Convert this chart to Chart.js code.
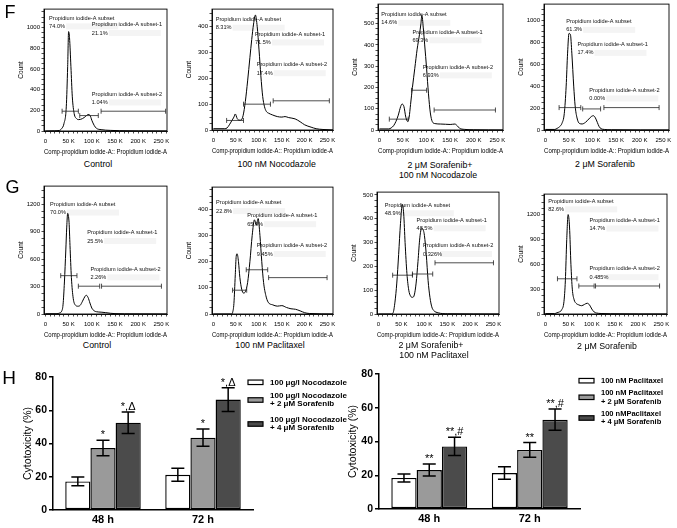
<!DOCTYPE html>
<html>
<head>
<meta charset="utf-8">
<title>Cell cycle and cytotoxicity</title>
<script src="https://cdn.jsdelivr.net/npm/chart.js@4.4.1/dist/chart.umd.min.js"></script>
<style>
  body { margin: 0; background: #fff; }
  #page { position: relative; width: 677px; height: 528px; overflow: hidden; font-family: 'Liberation Sans', Arial, sans-serif; color: #000; }
  #page canvas { position: absolute; }
  .txt { position: absolute; transform: translate(-50%, -50%); white-space: nowrap; line-height: 1; }
</style>
</head>
<body>
<div id="page"></div>
<script>
const FONT = "'Liberation Sans', Arial, sans-serif"

// gate names, same in every histogram
const gateNames = ['Propidium iodide-A subset', 'Propidium iodide-A subset-1', 'Propidium iodide-A subset-2']

// F row (x in K)
const f1X = [0, 20, 30, 35, 40, 45, 48, 50, 52, 55, 58, 62, 67, 72, 80, 87, 92, 96, 100, 105, 110, 120, 140, 160, 200, 262]
const f1Count = [0, 2, 5, 23, 71, 233, 621, 960, 900, 621, 330, 168, 120, 110, 120, 142, 159, 152, 104, 55, 26, 13, 6, 3, 1, 0]
const f1Gates = [[36, 71, 191], [74, 114, 149], [120, 259, 191]]
const f1Pct = ['74.0%', '21.1%', '1.04%']

const f2X = [0, 25, 30, 35, 40, 45, 48, 52, 56, 60, 65, 70, 75, 80, 84, 88, 92, 96, 100, 104, 108, 112, 116, 121, 130, 140, 150, 157, 165, 179, 190, 200, 214, 225, 240, 262]
const f2Count = [5, 5, 8, 20, 35, 50, 62, 45, 38, 38, 55, 110, 190, 280, 350, 410, 445, 400, 310, 210, 130, 90, 72, 65, 58, 52, 50, 52, 48, 43, 32, 20, 11, 5, 2, 0]
const f2Gates = [[29, 66, 37], [66, 125, 100], [131, 254, 113]]
const f2Pct = ['8.31%', '71.5%', '17.4%']

const f3X = [0, 20, 25, 30, 35, 40, 45, 48, 52, 56, 60, 63, 66, 70, 75, 80, 85, 88, 90, 93, 96, 100, 104, 108, 112, 118, 130, 140, 150, 160, 165, 170, 180, 200, 262]
const f3Count = [5, 5, 10, 20, 40, 70, 110, 122, 110, 60, 40, 60, 120, 200, 290, 380, 450, 500, 540, 480, 400, 290, 170, 80, 40, 30, 28, 27, 26, 28, 20, 8, 3, 1, 0]
const f3Gates = [[21, 61, 51], [68, 100, 187], [116, 246, 94]]
const f3Pct = ['14.6%', '69.3%', '6.93%']

const f4X = [0, 20, 25, 30, 35, 40, 44, 47, 50, 53, 56, 60, 63, 67, 72, 78, 85, 92, 98, 102, 106, 110, 114, 118, 125, 140, 262]
const f4Count = [5, 5, 15, 30, 60, 150, 400, 700, 880, 870, 700, 400, 220, 110, 60, 55, 70, 100, 125, 130, 110, 70, 30, 12, 5, 2, 0]
const f4Gates = [[29, 75, 204], [79, 117, 192], [124, 241, 204]]
const f4Pct = ['61.3%', '17.4%', '0.00%']

// G row
const g1X = [0, 25, 30, 35, 38, 41, 44, 46, 48, 51, 53, 56, 60, 65, 70, 75, 80, 85, 88, 92, 96, 100, 105, 110, 120, 130, 140, 150, 170, 262]
const g1Count = [3, 3, 10, 30, 100, 350, 700, 950, 1100, 1000, 750, 400, 170, 95, 85, 95, 140, 190, 205, 180, 120, 65, 35, 25, 20, 15, 8, 4, 2, 0]
const g1Gates = [[33, 68, 419], [71, 117, 304], [121, 250, 304]]
const g1Pct = ['70.0%', '25.5%', '2.26%']

const g2X = [0, 40, 42, 45, 48, 50, 52, 55, 58, 62, 66, 70, 75, 80, 85, 90, 94, 98, 102, 106, 110, 115, 120, 130, 140, 150, 160, 170, 180, 190, 200, 210, 262]
const g2Count = [0, 0, 5, 40, 150, 220, 230, 200, 140, 95, 80, 85, 120, 200, 300, 360, 340, 365, 300, 200, 120, 70, 45, 35, 30, 32, 25, 20, 18, 12, 5, 2, 0]
const g2Gates = [[42, 73, 91], [72, 119, 169], [121, 249, 139]]
const g2Pct = ['22.8%', '65.9%', '9.45%']

const g3X = [0, 28, 32, 36, 40, 44, 48, 52, 55, 58, 62, 66, 70, 74, 78, 82, 86, 90, 94, 98, 100, 104, 108, 112, 116, 120, 130, 150, 262]
const g3Count = [0, 0, 5, 50, 130, 250, 380, 460, 420, 300, 170, 100, 75, 70, 80, 130, 220, 320, 360, 350, 330, 250, 140, 70, 30, 15, 5, 1, 0]
const g3Gates = [[31, 74, 163], [74, 118, 168], [123, 250, 215]]
const g3Pct = ['48.9%', '48.5%', '0.326%']

const g4X = [0, 20, 25, 30, 35, 40, 43, 46, 49, 52, 55, 58, 62, 66, 72, 78, 84, 90, 95, 100, 105, 110, 120, 140, 262]
const g4Count = [5, 5, 15, 25, 50, 150, 400, 900, 1200, 1050, 600, 300, 170, 130, 110, 100, 115, 130, 110, 60, 25, 12, 6, 3, 0]
const g4Gates = [[26, 68, 425], [72, 105, 338], [108, 246, 338]]
const g4Pct = ['82.6%', '14.7%', '0.485%']

// H: cytotoxicity (%)
const hCats = ['48 h', '72 h']
const nocoAlone = [17.2, 21.2]
const nocoAloneErr = [2.6, 3.9]
const nocoSor2 = [37.3, 43.5]
const nocoSor2Err = [4.7, 5.2]
const nocoSor2Marks = ['*', '*']
const nocoSor4 = [52.5, 66.4]
const nocoSor4Err = [6.5, 7.2]
const nocoSor4Marks = ['*,Δ', '*,Δ']

const pacAlone = [18.4, 21.3]
const pacAloneErr = [2.4, 3.7]
const pacSor2 = [23.1, 35]
const pacSor2Err = [3.6, 4.4]
const pacSor2Marks = ['**', '**']
const pacSor4 = [37.1, 52.9]
const pacSor4Err = [5.4, 6.3]
const pacSor4Marks = ['**,#', '**,#']

const page = document.getElementById('page')

function addCanvas(left, top, width, height) {
  const cv = document.createElement('canvas')
  cv.width = width
  cv.height = height
  cv.style.left = left + 'px'
  cv.style.top = top + 'px'
  cv.style.width = width + 'px'
  cv.style.height = height + 'px'
  page.appendChild(cv)
  return cv
}

function addText(text, cx, cy, size) {
  const d = document.createElement('div')
  d.className = 'txt'
  d.textContent = text
  d.style.left = cx + 'px'
  d.style.top = cy + 'px'
  d.style.fontSize = size + 'px'
  page.appendChild(d)
}

function histogram(p) {
  const [l, t, r, b] = p.box
  const cv = addCanvas(l - 34, t - 4, r - l + 38, b - t + 29)

  const decor = {
    id: 'decor',
    beforeDatasetsDraw(chart) {
      const { ctx, chartArea: a, scales: { x, y } } = chart
      ctx.save()
      ctx.beginPath()
      ctx.rect(a.left, a.top, a.width, a.height)
      ctx.clip()
      ctx.fillStyle = '#f4f4f4'
      p.tags.forEach(([tx, ty]) => {
        const px = x.getPixelForValue(tx)
        const py = y.getPixelForValue(ty) + 8.3
        ctx.fillRect(px + 17, py - 3, 52, 6)
      })
      ctx.restore()
    },
    afterDatasetsDraw(chart) {
      const { ctx, chartArea: a, scales: { x, y } } = chart
      ctx.save()
      ctx.strokeStyle = '#222'
      ctx.lineWidth = 0.8
      p.gates.forEach(([g1, g2, gy]) => {
        const x1 = x.getPixelForValue(g1)
        const x2 = x.getPixelForValue(g2)
        const py = y.getPixelForValue(gy)
        ctx.beginPath()
        ctx.moveTo(x1, py); ctx.lineTo(x2, py)
        ctx.moveTo(x1, py - 2.5); ctx.lineTo(x1, py + 2.5)
        ctx.moveTo(x2, py - 2.5); ctx.lineTo(x2, py + 2.5)
        ctx.stroke()
      })
      ctx.fillStyle = '#111'
      ctx.font = '5.6px ' + FONT
      ctx.textBaseline = 'middle'
      p.tags.forEach(([tx, ty], i) => {
        const px = x.getPixelForValue(tx)
        const py = y.getPixelForValue(ty)
        ctx.fillText(gateNames[i], px, py)
        ctx.fillText(p.pct[i], px, py + 8.3)
      })
      ctx.strokeStyle = '#000'
      ctx.lineWidth = 0.9
      ctx.strokeRect(a.left, a.top, a.width, a.height)
      ctx.restore()
    }
  }

  new Chart(cv, {
    type: 'line',
    data: {
      datasets: [{
        data: p.x.map((v, i) => ({ x: v, y: p.y[i] })),
        borderColor: '#000',
        borderWidth: 1,
        pointRadius: 0,
        fill: false,
        cubicInterpolationMode: 'monotone'
      }]
    },
    options: {
      responsive: false,
      animation: false,
      devicePixelRatio: 1,
      layout: { padding: { top: 4, right: 4, left: 0, bottom: 0 } },
      plugins: { legend: { display: false }, tooltip: { enabled: false } },
      scales: {
        x: {
          type: 'linear',
          min: -3,
          max: 262,
          afterFit: s => { s.height = 25 },
          ticks: {
            stepSize: 10,
            autoSkip: false,
            maxRotation: 0,
            includeBounds: false,
            padding: 4.4,
            color: '#000',
            font: { size: 6, family: FONT },
            callback: v => v % 50 === 0 ? (v === 0 ? '0' : v + ' K') : ''
          },
          grid: { drawOnChartArea: false, tickLength: 2.5, color: '#000', lineWidth: 0.7 },
          border: { color: '#000', width: 0.9 },
          title: {
            display: true,
            text: 'Comp-propidium iodide-A:: Propidium iodide-A',
            color: '#000',
            font: { size: 6.3, family: FONT },
            padding: 0
          }
        },
        y: {
          min: 0,
          max: p.yMax,
          afterFit: s => { s.width = 34 },
          ticks: {
            stepSize: p.major / 4,
            autoSkip: false,
            includeBounds: false,
            padding: 1.5,
            color: '#000',
            font: { size: 6, family: FONT },
            callback: v => v % p.major === 0 ? String(v) : ''
          },
          grid: { drawOnChartArea: false, tickLength: 2.5, color: '#000', lineWidth: 0.7 },
          border: { color: '#000', width: 0.9 },
          title: {
            display: true,
            text: 'Count',
            color: '#000',
            font: { size: 6.5, family: FONT },
            padding: { top: 7, bottom: 0 }
          }
        }
      }
    },
    plugins: [decor]
  })
}

function barChart(p) {
  const cv = addCanvas(p.left, p.top, p.width, p.height)

  const extras = {
    id: 'extras',
    afterDatasetsDraw(chart) {
      const { ctx, scales: { y } } = chart
      ctx.save()
      ctx.strokeStyle = '#000'
      ctx.fillStyle = '#000'
      ctx.lineWidth = 1.5
      ctx.textAlign = 'center'
      ctx.textBaseline = 'alphabetic'
      ctx.font = '11px ' + FONT
      p.series.forEach((s, i) => {
        chart.getDatasetMeta(i).data.forEach((bar, j) => {
          const top = y.getPixelForValue(s.values[j] + s.errors[j])
          const bot = y.getPixelForValue(s.values[j] - s.errors[j])
          ctx.beginPath()
          ctx.moveTo(bar.x, top); ctx.lineTo(bar.x, bot)
          ctx.moveTo(bar.x - 6.5, top); ctx.lineTo(bar.x + 6.5, top)
          ctx.moveTo(bar.x - 6.5, bot); ctx.lineTo(bar.x + 6.5, bot)
          ctx.stroke()
          if (s.marks) ctx.fillText(s.marks[j], bar.x, top - 2)
        })
      })

      // legend
      ctx.textAlign = 'left'
      ctx.textBaseline = 'middle'
      ctx.font = 'bold ' + p.legendFont + 'px ' + FONT
      p.series.forEach((s, i) => {
        const cy = p.legendY[i]
        ctx.fillStyle = s.color
        ctx.fillRect(p.legendX, cy - 2.25, 15, 4.5)
        ctx.lineWidth = 1.2
        ctx.strokeRect(p.legendX, cy - 2.25, 15, 4.5)
        ctx.fillStyle = '#000'
        s.label.forEach((ln, k) => {
          ctx.fillText(ln, p.legendX + 22, cy + (k - (s.label.length - 1) / 2) * p.lineGap)
        })
      })
      ctx.restore()
    }
  }

  new Chart(cv, {
    type: 'bar',
    data: {
      labels: hCats,
      datasets: p.series.map(s => ({
        data: s.values,
        backgroundColor: s.color,
        borderColor: '#000',
        borderWidth: 1.4,
        borderSkipped: false,
        barPercentage: 1,
        categoryPercentage: 0.755
      }))
    },
    options: {
      responsive: false,
      animation: false,
      devicePixelRatio: 1,
      layout: { padding: { top: p.areaTop, right: p.padRight, left: 0, bottom: 0 } },
      plugins: { legend: { display: false }, tooltip: { enabled: false } },
      scales: {
        x: {
          afterFit: s => { s.height = p.xHeight },
          ticks: { color: '#000', padding: 3.5, font: { size: 11, weight: 'bold', family: FONT } },
          grid: { display: false, drawTicks: false },
          border: { color: '#000', width: 1.5 }
        },
        y: {
          min: 0,
          max: 80,
          afterFit: s => { s.width = p.yWidth },
          ticks: { stepSize: 20, color: '#000', padding: 2, font: { size: 10.5, weight: 'bold', family: FONT } },
          grid: { drawOnChartArea: false, tickLength: 4, color: '#000', lineWidth: 1.5 },
          border: { color: '#000', width: 1.5 },
          title: {
            display: true,
            text: 'Cytotoxicity (%)',
            color: '#000',
            font: { size: 10.5, family: FONT },
            padding: { top: p.titlePad, bottom: 0 }
          }
        }
      }
    },
    plugins: [extras]
  })
}

Chart.defaults.font.family = FONT

const F_TAGS = [[[8, 1090], [100, 1026], [100, 356]], [[5, 428], [91, 371], [95, 252]], [[4, 543], [70, 461], [92, 296]], [[44, 988], [68, 778], [93, 363]]]
const G_TAGS = [[[10, 1200], [90, 889], [97, 491]], [[6, 425], [74, 375], [95, 261]], [[14, 458], [83, 395], [97, 287]], [[6, 1363], [95, 1132], [95, 544]]]

histogram({ box: [44, 8, 167, 131], x: f1X, y: f1Count, gates: f1Gates, pct: f1Pct, tags: F_TAGS[0], yMax: 1177, major: 200 })
histogram({ box: [212, 8, 333, 130], x: f2X, y: f2Count, gates: f2Gates, pct: f2Pct, tags: F_TAGS[1], yMax: 468, major: 100 })
histogram({ box: [378, 3, 503, 130], x: f3X, y: f3Count, gates: f3Gates, pct: f3Pct, tags: F_TAGS[2], yMax: 592, major: 100 })
histogram({ box: [544, 3, 669, 130], x: f4X, y: f4Count, gates: f4Gates, pct: f4Pct, tags: F_TAGS[3], yMax: 1147, major: 200 })

histogram({ box: [44, 185, 167, 314], x: g1X, y: g1Count, gates: g1Gates, pct: g1Pct, tags: G_TAGS[0], yMax: 1398, major: 300 })
histogram({ box: [212, 186, 333, 314], x: g2X, y: g2Count, gates: g2Gates, pct: g2Pct, tags: G_TAGS[1], yMax: 485, major: 100 })
histogram({ box: [377, 191, 499, 314], x: g3X, y: g3Count, gates: g3Gates, pct: g3Pct, tags: G_TAGS[2], yMax: 512, major: 100 })
histogram({ box: [544, 193, 667, 314], x: g4X, y: g4Count, gates: g4Gates, pct: g4Pct, tags: G_TAGS[3], yMax: 1447, major: 300 })

barChart({
  left: 0, top: 362, width: 360, height: 166,
  areaTop: 15, padRight: 107, xHeight: 18, yWidth: 53, titlePad: 21.5,
  legendX: 248, legendY: [20.3, 38, 62], lineGap: 8.3, legendFont: 8,
  series: [
    { values: nocoAlone, errors: nocoAloneErr, color: '#ffffff', label: ['100 μg/l Nocodazole'] },
    { values: nocoSor2, errors: nocoSor2Err, marks: nocoSor2Marks, color: '#9a9a9a', label: ['100 μg/l Nocodazole', '+ 2 μM Sorafenib'] },
    { values: nocoSor4, errors: nocoSor4Err, marks: nocoSor4Marks, color: '#4b4b4b', label: ['100 μg/l Nocodazole', '+ 4 μM Sorafenib'] }
  ]
})

barChart({
  left: 340, top: 362, width: 337, height: 166,
  areaTop: 12, padRight: 97, xHeight: 19, yWidth: 39, titlePad: 6.7,
  legendX: 239, legendY: [18.7, 35.3, 56], lineGap: 8.5, legendFont: 7.5,
  series: [
    { values: pacAlone, errors: pacAloneErr, color: '#ffffff', label: ['100 nM Paclitaxel'] },
    { values: pacSor2, errors: pacSor2Err, marks: pacSor2Marks, color: '#9a9a9a', label: ['100 nM Paclitaxel', '+ 2 μM Sorafenib'] },
    { values: pacSor4, errors: pacSor4Err, marks: pacSor4Marks, color: '#4b4b4b', label: ['100 nMPaclitaxel', '+ 4 μM Sorafenib'] }
  ]
})

// panel letters and sample names
addText('F', 10, 11.7, 18)
addText('G', 12.5, 186.7, 18)
addText('H', 9.2, 377, 19)

addText('Control', 98, 163.5, 8.8)
addText('100 nM Nocodazole', 276.7, 163.5, 8.8)
addText('2 μM Sorafenib+', 440, 164.5, 8.8)
addText('100 nM Nocodazole', 438, 174.5, 8.8)
addText('2 μM Sorafenib', 605, 163.5, 8.8)

addText('Control', 97, 345, 8.8)
addText('100 nM Paclitaxel', 270, 345, 8.8)
addText('2 μM Sorafenib+', 431, 345, 8.8)
addText('100 nM Paclitaxel', 434, 355, 8.8)
addText('2 μM Sorafenib', 607, 346, 8.8)
</script>
</body>
</html>
